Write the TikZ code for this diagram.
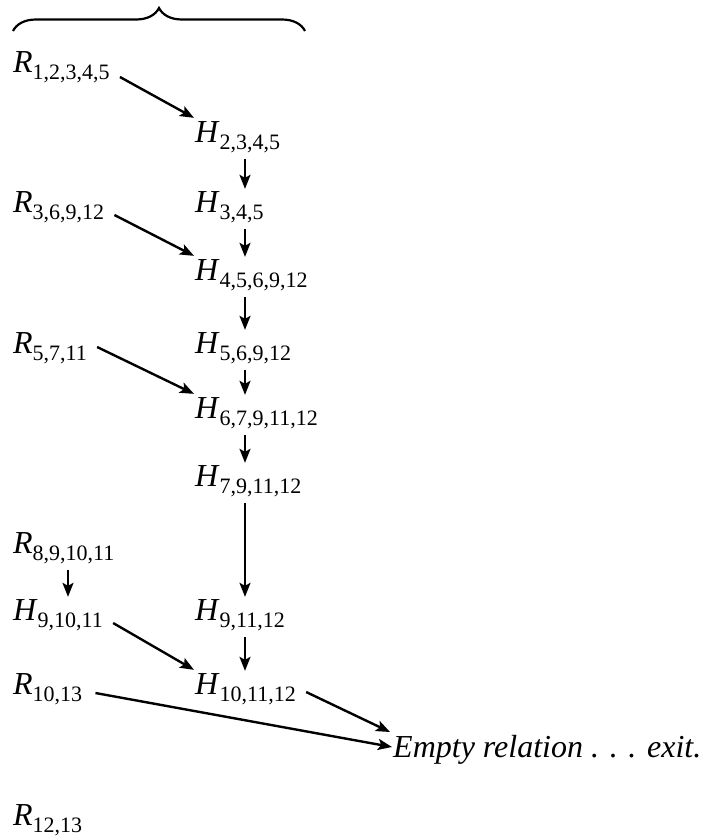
\documentclass[tikz,border=0pt]{standalone}
\usepackage{fontspec}
\setmainfont{Liberation Serif}
\usetikzlibrary{arrows.meta,decorations.pathreplacing}
\newcommand{\rel}[2]{\textit{#1}\raisebox{-7pt}{\fontsize{22}{22}\selectfont #2}}
\begin{document}
\begin{tikzpicture}[x=1pt,y=-1pt,
  lbl/.style={inner sep=0pt,anchor=base west,font=\fontsize{32}{36}\selectfont},
  arr/.style={-{Stealth[length=14pt,width=11pt,inset=3pt]},line width=2.4pt}]
\useasboundingbox (0,0) rectangle (717,836);
\draw[line width=2.2pt,decorate,decoration={brace,amplitude=23pt}] (13,31) -- (305,31);
\coordinate (col) at (245,0);
\coordinate (lcol) at (68,0);
\node[lbl] (r1) at (13,72) {\rel{R}{1,2,3,4,5}};
\node[lbl] (h2) at (195,142) {\rel{H}{2,3,4,5}};
\node[lbl] (r3) at (13,212) {\rel{R}{3,6,9,12}};
\node[lbl] (h3) at (195,212) {\rel{H}{3,4,5}};
\node[lbl] (h4) at (195,280) {\rel{H}{4,5,6,9,12}};
\node[lbl] (r5) at (13,353) {\rel{R}{5,7,11}};
\node[lbl] (h5) at (195,353) {\rel{H}{5,6,9,12}};
\node[lbl] (h6) at (195,418) {\rel{H}{6,7,9,11,12}};
\node[lbl] (h7) at (195,486) {\rel{H}{7,9,11,12}};
\node[lbl] (r8) at (13,553) {\rel{R}{8,9,10,11}};
\node[lbl] (g9) at (13,620) {\rel{H}{9,10,11}};
\node[lbl] (h9) at (195,620) {\rel{H}{9,11,12}};
\node[lbl] (r10) at (13,694) {\rel{R}{10,13}};
\node[lbl] (h10) at (195,694) {\rel{H}{10,11,12}};
\node[lbl] (empty) at (393,757) {\textit{Empty relation . . . exit.}};
\node[lbl] (r12) at (13,825) {\rel{R}{12,13}};
% chain of H relations
\foreach \a/\b in {h2/h3,h3/h4,h4/h5,h5/h6,h6/h7,h7/h9,h9/h10}
  \draw[arr,shorten <=6pt,shorten >=2pt] (\a.south -| col) -- (\b.north -| col);
\draw[arr,shorten <=6pt,shorten >=2pt] (r8.south -| lcol) -- (g9.north -| lcol);
% joins
\foreach \a/\b/\d in {r1/h2/5,r3/h4/3,r5/h6/-6,g9/h10/3}
  \draw[arr] ([shift={(10,\d)}]\a.base east) -- ([shift={(-1,-3)}]\b.north west);
\draw[arr] ([shift={(10,-2)}]h10.base east) -- ([shift={(-3,-25)}]empty.base west);
\draw[arr] ([shift={(13,-1)}]r10.base east) -- ([shift={(-1,-10)}]empty.base west);
\end{tikzpicture}
\end{document}
